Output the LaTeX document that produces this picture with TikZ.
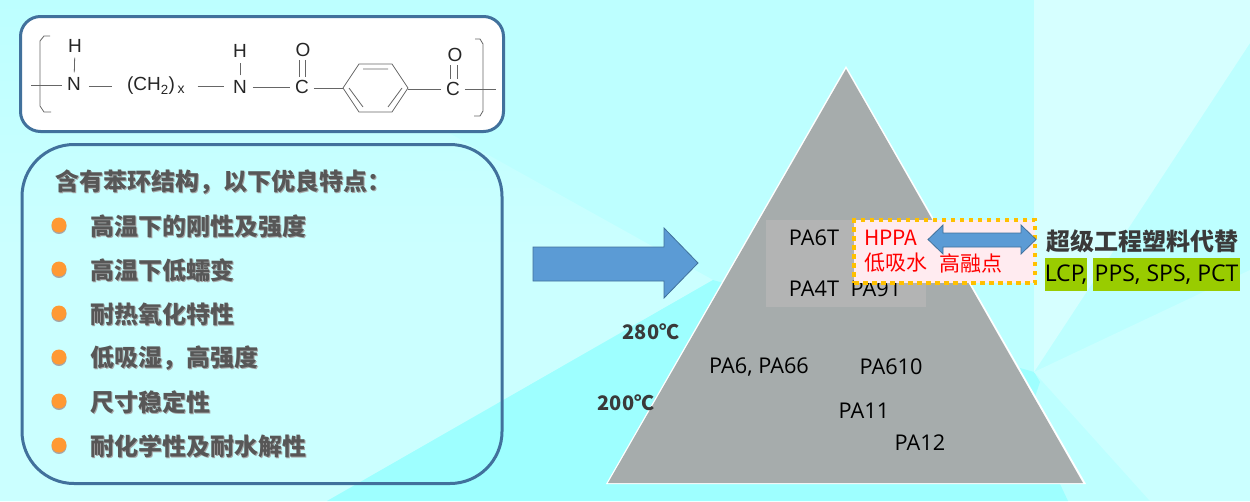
\documentclass[tikz,border=0pt]{standalone}
\usepackage{fontspec}
\setmainfont{Open Sans}
\newfontfamily\cjk{Noto Sans CJK SC}
\newfontfamily\chem{Liberation Sans}
\usetikzlibrary{calc}
\definecolor{bgA}{HTML}{BDFFFF}
\definecolor{bgB}{HTML}{CBFFFF}
\definecolor{bgC}{HTML}{9EFFFF}
\definecolor{bgD}{HTML}{D6FFFF}
\definecolor{rim}{HTML}{41719C}
\definecolor{arrowfill}{HTML}{5B9BD5}
\definecolor{tri}{HTML}{A6ACAC}
\definecolor{dot}{HTML}{FF9933}
\definecolor{txt}{HTML}{3A3A3A}
\definecolor{grn}{HTML}{99CC00}
\tikzset{
  x=1pt,y=-1pt,
  panel/.style={draw=rim,line width=3pt,rounded corners=#1},
  feature/.style={font=\cjk\bfseries\fontsize{24}{24}\selectfont,text=txt!85!white,anchor=west,inner sep=0pt},
  featureshadow/.style={font=\cjk\bfseries\fontsize{24}{24}\selectfont,text=black!35,anchor=west,inner sep=0pt},
  bulletdot/.style={circle,fill=dot,minimum size=15pt,inner sep=0pt},
  pa/.style={font=\fontsize{21.7}{22}\selectfont,text=black,inner sep=0pt},
  temp/.style={font=\cjk\bfseries\fontsize{20}{20}\selectfont,text=txt,inner sep=0pt},
  atom/.style={font=\chem\fontsize{19}{19}\selectfont,text=black!85,inner sep=0pt,outer sep=5pt},
  bond/.style={draw=black!60,line width=0.8pt},
  hp/.style={font=\cjk\fontsize{21}{21}\selectfont,text=red,inner sep=0pt},
  tag/.style={fill=grn,text=black,font=\fontsize{23}{23}\selectfont,inner sep=0pt,minimum height=33pt},
  blockarrow/.style={draw=rim,fill=arrowfill,line width=0.8pt},
}
\begin{document}
\begin{tikzpicture}
\useasboundingbox (0,0) rectangle (1250,501);
% background
\fill[bgA] (0,0) rectangle (1250,501);
\shade[top color=bgA,bottom color=bgB,middle color=bgB] (210,0) -- (713,280) -- (327,501) -- (0,501) -- (0,0) -- cycle;
\fill[bgC] (327,501) -- (713,280) -- (1034,372) -- (1040,382) -- (1020,440) -- (1060,484) -- (1068,501) -- cycle;
\fill[bgD] (1034,0) -- (1250,0) -- (1250,43) -- (1034,372) -- cycle;
\fill[bgB] (1034,372) -- (1250,270) -- (1250,501) -- (1150,501) -- cycle;
% structure panel
\node[panel=20pt,fill=white,minimum width=483pt,minimum height=115pt,inner sep=0pt] (formula) at (262,74) {};
\node[atom] (n1) at (74,84) {N};
\node[atom] (h1) at (75,46) {H};
\node[atom,outer sep=0pt] (ch) at (151,86) {(CH\textsubscript{2})};
\node[atom,font=\chem\fontsize{14}{14}\selectfont,outer sep=0pt] (xx) at (181,90) {x};
\node[atom] (n2) at (240,87) {N};
\node[atom] (h2) at (240,51) {H};
\node[atom] (c1) at (302,87) {C};
\node[atom] (o1) at (303,50) {O};
\node[atom] (c2) at (453,89) {C};
\node[atom] (o2) at (455,55) {O};
\coordinate (lend) at (31,85);
\coordinate (rend) at (496,89);
\coordinate (ringL) at (343,88);
\coordinate (ringR) at (408,88);
\draw[bond] (lend) -- (n1.west |- lend);
\draw[bond] (n1) -- (h1);
\draw[bond,shorten >=15pt,shorten <=3pt] (n1.east |- ch.west) -- (ch.west);
\draw[bond,shorten >=4pt,shorten <=13pt] (xx.east |- ch.east) -- (n2.west |- ch.east);
\draw[bond] (n2) -- (h2);
\draw[bond,shorten <=1pt] (n2.east) -- (c1.west);
\draw[bond] (c1.east |- ringL) -- (ringL);
\draw[bond] (c2.west) -- (ringR |- c2.west);
\draw[bond] (c2.east) -- (rend);
\draw[bond] (299,60) -- (299,77) (305,60) -- (305,77);
\draw[bond] (450,65) -- (450,79) (457,65) -- (457,79);
% benzene
\draw[bond] (ringL) -- (359,64) -- (392,64) -- (ringR) -- (392,112) -- (359,112) -- cycle;
\draw[bond] (363,69) -- (388,69) (349,88) -- (363,107) (402,88) -- (388,107);
% brackets
\draw[bond] (50,36) -- (44,36) -- (40,41) -- (40,106) -- (44,112) -- (51,112);
\draw[bond] (475,39) -- (480,39) -- (483,44) -- (483,111) -- (480,116) -- (474,116);
% features panel
\node[panel=52pt,minimum width=480pt,minimum height=339pt,inner sep=0pt] (features) at (262,314) {};
\foreach \t/\yy/\xx in {含有苯环结构，以下优良特点：/182/55,高温下的刚性及强度/226/90,高温下低蠕变/270/90,耐热氧化特性/314/90,低吸湿，高强度/358/90,尺寸稳定性/402/90,耐化学性及耐水解性/446/90}{
  \node[featureshadow] at (\xx+1.2,\yy+1.2) {\t};
  \node[feature] at (\xx,\yy) {\t};
}
\foreach \yy in {225,269,313,357,401,445}{
  \fill[black!35] (59,\yy+1.5) circle (7.5);
  \node[bulletdot] at (59,\yy) {};
}
% big arrow
\draw[blockarrow] (533,247) -- (664,247) -- (664,228) -- (698,263) -- (664,298) -- (664,281) -- (533,281) -- cycle;
% triangle
\fill[white] (846,66) -- (1086,484) -- (606,484) -- cycle;
\fill[tri] (846,69) -- (1083,483) -- (608,483) -- cycle;
\fill[black!28!white,opacity=.75] (766,220) rectangle (926,307);
\node[pa] (pa6t) at (814,238) {PA6T};
\node[pa] (pa4t) at (814,289) {PA4T};
\node[pa] (pa91) at (876,289) {PA91};
% HPPA box
\node[draw={rgb,255:red,255;green,192;blue,0},fill={rgb,255:red,255;green,235;blue,240},line width=4.5pt,dash pattern=on 4.5pt off 4.5pt,minimum width=181pt,minimum height=63pt,inner sep=0pt] (hppa) at (944.5,251.5) {};
\node[hp] (hppat) at (891,238) {HPPA};
\node[hp] (low) at (896,263) {低吸水};
\node[hp] (high) at (971,263) {高融点};
\draw[blockarrow] (928,239.5) -- (943,225) -- (943,233) -- (1021,233) -- (1021,225) -- (1036,239.5) -- (1021,254) -- (1021,247) -- (943,247) -- (943,254) -- cycle;
% right labels
\node[font=\cjk\bfseries\fontsize{24}{24}\selectfont,text=txt,anchor=west,inner sep=0pt] (super) at (1046,241) {超级工程塑料代替};
\node[tag,minimum width=40pt] (lcp) at (1066,274.5) {LCP,};
\node[tag,minimum width=147pt] (pps) at (1166.5,274.5) {PPS, SPS, PCT};
% temps
\node[temp] (t280) at (651,332) {280℃};
\node[temp] (t200) at (626,403) {200℃};
% lower PAs
\node[pa] (pa6) at (759,367) {PA6, PA66};
\node[pa] (pa610) at (891,367) {PA610};
\node[pa] (pa11) at (864,411) {PA11};
\node[pa] (pa12) at (920,443) {PA12};
\end{tikzpicture}
\end{document}
